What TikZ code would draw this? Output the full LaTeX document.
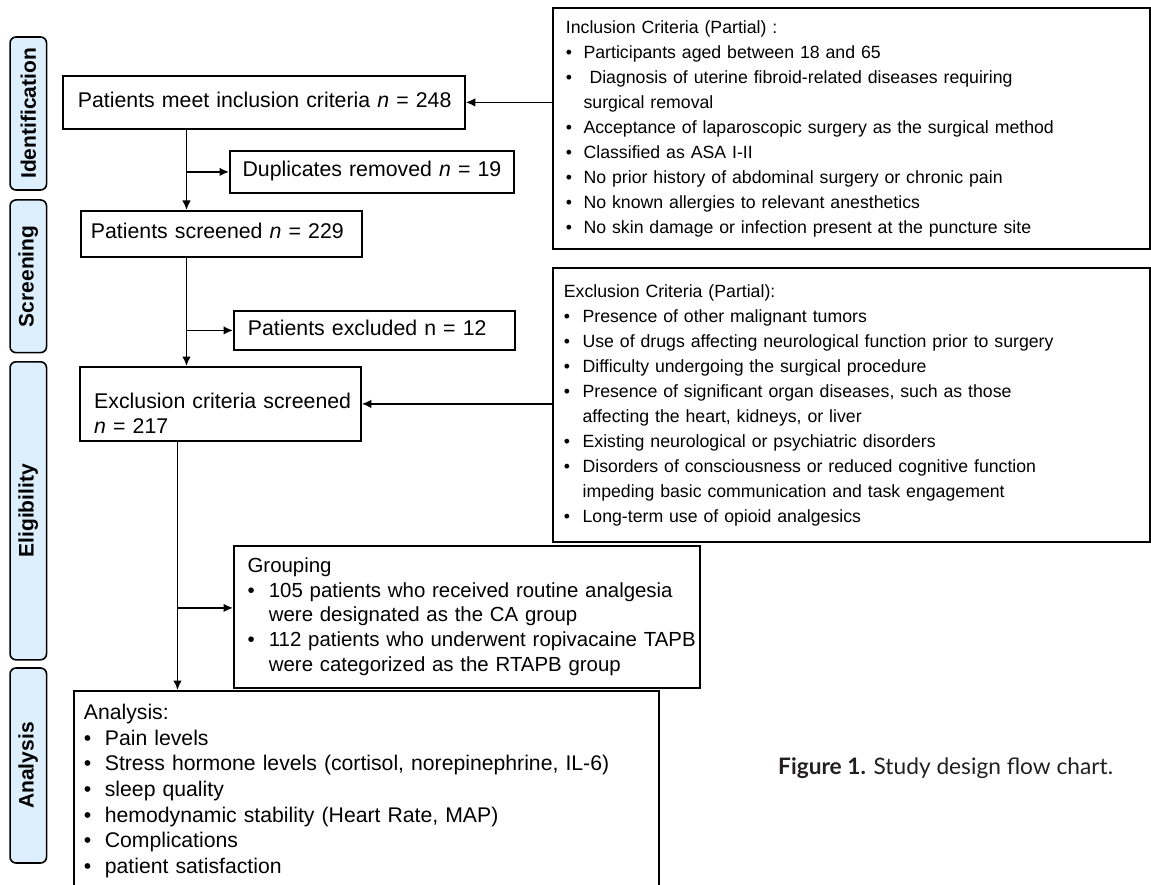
\documentclass[tikz,border=0pt]{standalone}
\usepackage{fontspec}
\setmainfont{Liberation Sans}
\newfontfamily\capfont{Lato}
\usetikzlibrary{arrows.meta}
\definecolor{stagefill}{RGB}{221,238,252}
\definecolor{captext}{RGB}{35,31,32}
\newcommand\bu[1]{\makebox[#1][l]{\textbullet}}
\newcommand\tline[1]{\strut\mbox{#1}}
\begin{document}
\begin{tikzpicture}[x=1pt,y=-1pt,
  box/.style={draw, line width=1.8pt, anchor=north west, align=left, inner ysep=0pt},
  flowfont/.style={font=\fontsize{21.3}{24.5}\selectfont},
  critfont/.style={font=\fontsize{17.7}{25}\selectfont},
  stage/.style={draw, line width=1.6pt, rounded corners=6pt, fill=stagefill, minimum height=36.5pt, inner sep=0pt, font=\bfseries\fontsize{21}{25}\selectfont, rotate=90},
  arr/.style={line width=1.5pt, -{Latex[length=9.5pt,width=8.5pt]}}]
\useasboundingbox (0,0) rectangle (1151,885);
\clip (0,0) rectangle (1151,885);

% stage labels
\node[stage, minimum width=153pt] (sId) at (28.3,113.5) {Identification};
\node[stage, minimum width=152.7pt] (sSc) at (28.3,276.3) {Screening};
\node[stage, minimum width=298pt] (sEl) at (28.3,510.8) {Eligibility};
\node[stage, minimum width=195pt] (sAn) at (28.3,765.5) {Analysis};

% flow boxes
\node[box, flowfont, text width=372pt, inner xsep=15pt, minimum height=53pt] (b1) at (62,75)
  {\tline{Patients meet inclusion criteria \textit{n} = 248}};
\node[box, flowfont, text width=258.6pt, inner xsep=12.7pt, minimum height=42pt] (dup) at (229,150)
  {\tline{Duplicates removed \textit{n} = 19}};
\node[box, flowfont, text width=261pt, inner xsep=10pt, minimum height=46pt] (scr) at (80,210)
  {\tline{Patients screened \textit{n} = 229}};
\node[box, flowfont, text width=253pt, inner xsep=14pt, minimum height=39pt] (exd) at (233,310)
  {\tline{Patients excluded n = 12}};
\node[box, flowfont, text width=252.4pt, inner xsep=14.3pt, minimum height=74pt] (b5) at (79,366)
  {\strut\\ \tline{Exclusion criteria screened}\\ \tline{\textit{n} = 217}};
\node[box, font=\fontsize{20.4}{24.75}\selectfont, text width=438.6pt, inner xsep=13.7pt, minimum height=142pt] (grp) at (233,545)
  {\tline{Grouping}\\
   \tline{\bu{21.3pt}105 patients who received routine analgesia}\\
   \tline{\hspace*{21.3pt}were designated as the CA group}\\
   \tline{\bu{21.3pt}112 patients who underwent ropivacaine TAPB}\\
   \tline{\hspace*{21.3pt}were categorized as the RTAPB group}};
\node[box, font=\fontsize{21.2}{25.7}\selectfont, text width=565pt, inner xsep=10pt, inner ysep=10.6pt] (ana) at (73,690)
  {\tline{Analysis:}\\
   \tline{\bu{21pt}Pain levels}\\
   \tline{\bu{21pt}Stress hormone levels (cortisol, norepinephrine, IL-6)}\\
   \tline{\bu{21pt}sleep quality}\\
   \tline{\bu{21pt}hemodynamic stability (Heart Rate, MAP)}\\
   \tline{\bu{21pt}Complications}\\
   \tline{\bu{21pt}patient satisfaction}};

% criteria boxes
\node[box, critfont, text width=571pt, inner xsep=13pt, minimum height=241pt] (inc) at (552,7)
  {\tline{Inclusion Criteria (Partial) :}\\
   \tline{\bu{17.7pt}Participants aged between 18 and 65}\\
   \tline{\bu{17.7pt}\ Diagnosis of uterine fibroid-related diseases requiring}\\
   \tline{\hspace*{17.7pt}surgical removal}\\
   \tline{\bu{17.7pt}Acceptance of laparoscopic surgery as the surgical method}\\
   \tline{\bu{17.7pt}Classified as ASA I-II}\\
   \tline{\bu{17.7pt}No prior history of abdominal surgery or chronic pain}\\
   \tline{\bu{17.7pt}No known allergies to relevant anesthetics}\\
   \tline{\bu{17.7pt}No skin damage or infection present at the puncture site}};
\node[box, critfont, text width=575pt, inner xsep=11pt, minimum height=274pt] (exc) at (552,267)
  {\tline{Exclusion Criteria (Partial):}\\
   \tline{\bu{18.7pt}Presence of other malignant tumors}\\
   \tline{\bu{18.7pt}Use of drugs affecting neurological function prior to surgery}\\
   \tline{\bu{18.7pt}Difficulty undergoing the surgical procedure}\\
   \tline{\bu{18.7pt}Presence of significant organ diseases, such as those}\\
   \tline{\hspace*{18.7pt}affecting the heart, kidneys, or liver}\\
   \tline{\bu{18.7pt}Existing neurological or psychiatric disorders}\\
   \tline{\bu{18.7pt}Disorders of consciousness or reduced cognitive function}\\
   \tline{\hspace*{18.7pt}impeding basic communication and task engagement}\\
   \tline{\bu{18.7pt}Long-term use of opioid analgesics}};

% caption
\node[anchor=west, inner sep=0pt, text=captext, font=\capfont\fontsize{22.7}{26}\selectfont] (cap) at (778,768)
  {\textbf{Figure 1.} Study design flow chart.};

% connectors
\coordinate (xa) at (186.5,0);
\coordinate (xb) at (177.5,0);
\draw[arr] (inc.west |- b1.east) -- (b1.east);
\draw[arr] (b1.south -| xa) -- (scr.north -| xa);
\draw[arr] (dup.west -| xa) -- (dup.west);
\draw[arr] (scr.south -| xa) -- (b5.north -| xa);
\draw[arr] (exd.west -| xa) -- (exd.west);
\draw[arr] (exc.west |- b5.east) -- (b5.east);
\draw[arr] (b5.south -| xb) -- (ana.north -| xb);
\draw[arr] ([yshift=9pt]grp.west -| xb) -- ([yshift=9pt]grp.west);
\end{tikzpicture}
\end{document}
